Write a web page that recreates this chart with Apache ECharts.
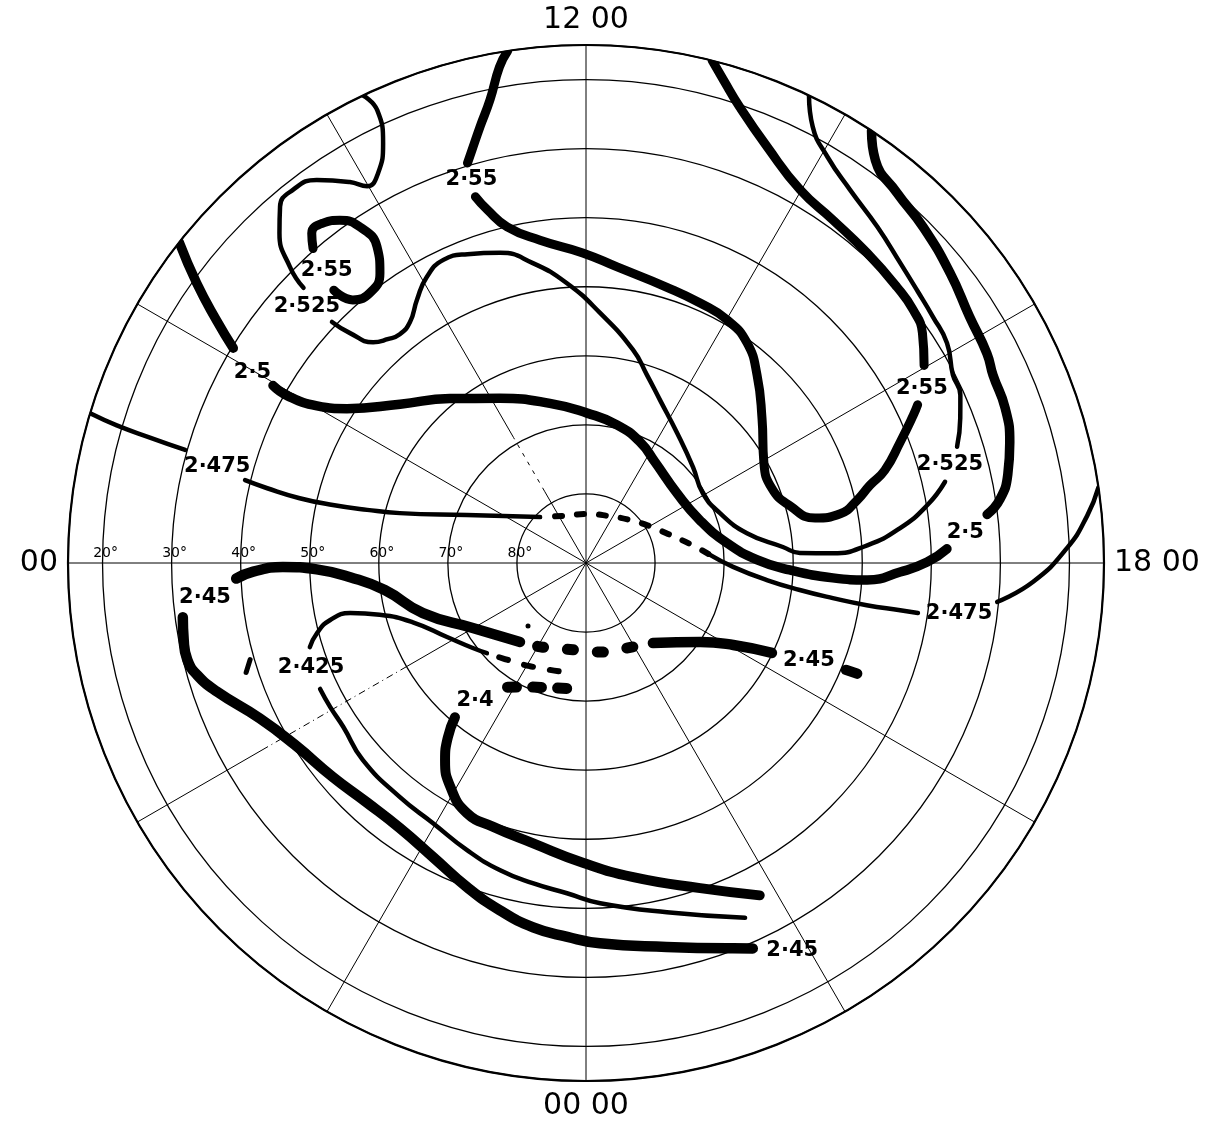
<!DOCTYPE html>
<html>
<head>
<meta charset="utf-8">
<title>Polar contour chart</title>
<script src="https://cdn.jsdelivr.net/npm/echarts@6/dist/echarts.min.js"></script>
<style>
  html, body { margin: 0; padding: 0; background: #fff; }
  #chart { width: 1207px; height: 1123px; }
</style>
</head>
<body>
<div id="chart"></div>
<script>
// Local-time labels round the rim (hour -> text)
const hourTicks = [0, 6, 12, 18];
const hourTickLabels = ['00 00', '00', '12 00', '18 00'];

// Latitude rings and their labels along the 06 h radius
const latitudeRings = [20, 30, 40, 50, 60, 70, 80];

// Radial hour lines
const spokeHours = [0, 2, 4, 6, 8, 10, 12, 14, 16, 18, 20, 22];

// Contour segments, each point = [latitude (deg), local time (h)]
// 2.55
const c255a = [[15, 11.42], [17.1, 11.34], [21.5, 11.22], [25.0, 11.09], [28.0, 10.97], [29.6, 10.90]];
const c255b = [[34.6, 10.88], [36.9, 10.96], [40.0, 11.12], [42.8, 11.46], [45.1, 11.96], [46.9, 12.40],
  [48.4, 13.09], [48.9, 13.58], [49.3, 14.01], [50.5, 14.41], [53.2, 14.82], [57.0, 15.37], [60.4, 16.03],
  [61.0, 16.54], [59.3, 16.96], [56.2, 17.26], [52.5, 17.27], [49.7, 17.13], [47.4, 16.98], [44.7, 16.85],
  [41.3, 16.60], [38.0, 16.38], [36.8, 16.30]];
const c255c = [[33.3, 15.98], [31.0, 15.71], [30.1, 15.48], [29.8, 15.23], [29.4, 14.81], [28.8, 14.38],
  [27.7, 13.99], [24.3, 13.57], [20.3, 13.24], [17.3, 13.06], [15, 12.94]];
const c255loop = [[29.7, 9.27], [27.9, 9.35], [27.8, 9.49], [28.9, 9.62], [31.4, 9.74], [35.1, 9.77],
  [38.5, 9.64], [39.9, 9.44], [39.1, 9.23], [36.2, 9.15]];
// 2.525
const c2525a = [[15, 13.70], [18.8, 13.83], [21.6, 14.05], [23.8, 14.35], [25.6, 14.73], [27.1, 15.09],
  [27.9, 15.37], [28.4, 15.64], [28.8, 15.91], [30.3, 16.19], [30.6, 16.39], [31.9, 16.59], [33.7, 16.84]];
const c2525b = [[36.7, 17.15], [39.9, 17.36], [44.3, 17.58], [49.2, 17.76], [54.2, 17.85], [59.0, 17.82],
  [61.4, 17.69], [66.3, 17.30], [69.3, 16.64], [70.3, 15.94], [69.2, 15.21], [67.0, 14.33], [64.1, 13.63],
  [61.4, 13.20], [58.4, 12.83], [53.7, 12.21], [49.4, 11.74], [45.9, 11.33], [43.4, 10.97], [42.1, 10.60],
  [41.5, 10.32], [42.6, 10.06], [44.7, 9.82], [46.8, 9.59], [47.3, 9.39], [46.7, 9.23], [45.6, 9.07],
  [42.3, 8.95], [39.3, 8.90]];
const c2525c = [[32.9, 8.95], [29.4, 9.00], [24.8, 9.14], [22.0, 9.29], [21.3, 9.46], [22.2, 9.66],
  [25.1, 9.88], [26.9, 9.99], [26.0, 10.13], [22.5, 10.28], [17.8, 10.35], [15, 10.30]];
// 2.5
const c25a = [[15, 8.55], [20.6, 8.38], [26.0, 8.22], [30.2, 8.09]];
const c25b = [[37.9, 7.97], [40.4, 7.95], [44.9, 8.02], [48.8, 8.19], [54.6, 8.70], [59.1, 9.36],
  [63.1, 10.16], [66.3, 11.15], [68.3, 12.03], [69.5, 12.84], [70.8, 13.60], [72.3, 14.29], [73.4, 15.50],
  [72.4, 16.62], [69.4, 17.46], [65.2, 17.93], [60.5, 18.13], [54.2, 18.23], [49.2, 18.23], [44.5, 18.11],
  [40.6, 17.99], [37.7, 17.85]];
const c25c = [[31.5, 17.54], [29.4, 17.42], [27.6, 17.21], [26.2, 16.94], [25.3, 16.65], [25.1, 16.35],
  [24.5, 16.16], [24.0, 15.82], [22.6, 15.43], [21.1, 15.01], [20.0, 14.67], [18.2, 14.38], [15, 14.23]];
// 2.475
const c2475a = [[15, 7.12], [19.2, 7.09], [24.3, 7.07], [29.7, 7.05]];
const c2475b = [[39.2, 6.91], [42.6, 6.88], [47.5, 6.85], [52.4, 6.86], [57.4, 6.91], [62.1, 7.00],
  [71.4, 7.46], [80.6, 9.00]];
const c2475dash = [[80.6, 9.00], [82.4, 10.26], [82.9, 12.16], [82.4, 13.80], [81.1, 15.04], [79.4, 15.97],
  [77.4, 16.70], [74.7, 17.31], [72.0, 17.75]];
const c2475c = [[72.0, 17.75], [68.7, 18.10], [63.7, 18.36], [58.8, 18.48], [53.9, 18.54], [48.9, 18.57],
  [44.0, 18.57], [41.4, 18.57]];
const c2475d = [[30.2, 18.36], [25.2, 18.16], [20.3, 17.88], [17.1, 17.64], [15, 17.44]];
// 2.45
const c245a = [[49.3, 19.49], [47.6, 19.48]];
const c245b = [[60.1, 19.72], [65.6, 19.94], [69.9, 20.31], [74.9, 21.34]];
const c245dash = [[74.9, 21.34], [76.3, 22.25], [76.9, 23.32], [77.3, 0.57], [76.3, 1.81], [75.1, 2.66]];
const c245c = [[75.1, 2.66], [71.1, 4.01], [65.3, 4.86], [60.6, 5.49], [55.8, 5.77], [51.0, 5.91],
  [46.1, 5.95], [41.8, 5.90], [39.3, 5.83]];
const c245d = [[31.1, 5.49], [30.7, 5.28], [30.6, 5.09], [31.4, 4.93], [33.4, 4.72], [37.7, 4.30],
  [40.3, 3.87], [42.0, 3.32], [43.0, 2.83], [43.1, 2.34], [42.0, 1.83], [40.0, 1.34], [38.2, 0.93],
  [36.7, 0.55], [35.8, 0.19], [34.9, 23.86], [33.2, 23.21], [30.3, 22.61], [29.2, 22.44]];
// 2.425
const c2425a = [[70.6, 3.18], [69.5, 3.54], [67.2, 4.13], [63.5, 4.74], [59.2, 5.06], [55.1, 5.20],
  [52.0, 5.16], [49.8, 5.03], [48.2, 4.87]];
const c2425dash = [[70.6, 3.18], [71.8, 2.68], [73.0, 1.90], [73.9, 0.79]];
const c2425b = [[47.4, 4.31], [47.5, 4.04], [47.6, 3.73], [46.9, 3.24], [46.7, 2.57], [46.3, 2.03],
  [45.0, 1.50], [43.8, 1.04], [43.0, 0.63], [42.1, 0.22], [40.7, 23.84], [38.1, 23.13], [33.7, 22.39]];
// 2.4
const c24 = [[60.7, 2.69], [57.8, 2.56], [54.9, 2.37], [52.1, 2.08], [49.9, 1.70], [49.5, 1.29],
  [48.7, 0.71], [46.6, 0.04], [44.0, 23.43], [40.1, 22.71], [35.7, 22.16]];
const c24dash = [[68.3, 2.27], [70.1, 1.70], [71.2, 1.07], [71.7, 0.39]];

// Small pen marks
const strayStroke = [[38.3, 4.81], [39.4, 4.93]];
const strayDots = [[77.6, 2.84]];

// Contour value labels
const labelTexts = ['2·55', '2·55', '2·55', '2·525', '2·525', '2·5', '2·5', '2·475', '2·475',
  '2·45', '2·45', '2·45', '2·425', '2·4'];
const labelLat = [32.1, 35.2, 33.4, 35.1, 35.4, 34.4, 34.9, 34.8, 35.5, 34.6, 54.8, 26.5, 47.4, 64.4];
const labelHour = [10.89, 16.17, 9.23, 8.84, 16.99, 7.98, 17.69, 6.98, 18.51, 5.65, 19.57, 22.13, 4.61, 2.59];

const INK = '#000';
const toPolar = pts => pts.map(p => [90 - p[0], p[1]]);

function contour(pts, width, dash, dashOffset) {
  return {
    type: 'line', coordinateSystem: 'polar', data: toPolar(pts),
    symbol: 'none', smooth: 0.5, silent: true, clip: false, z: 5,
    lineStyle: { color: INK, width: width, cap: 'round', join: 'round',
      type: dash || 'solid', dashOffset: dashOffset || 0 }
  };
}

// Hour lines; the 04 h line is dash-dotted and the 10 h line broken over part of their length
const spokeSeries = [];
spokeHours.forEach(h => {
  let segs = [[0, 75, 'solid']];
  if (h === 4) segs = [[0, 30, 'solid'], [30, 54, [7, 4, 1, 4]], [54, 75, 'solid']];
  if (h === 10) segs = [[0, 12, 'solid'], [12, 21, [4, 6]], [21, 75, 'solid']];
  segs.forEach(s => {
    spokeSeries.push({
      type: 'line', coordinateSystem: 'polar', data: [[s[0], h], [s[1], h]],
      symbol: 'none', silent: true, z: 2,
      lineStyle: { color: INK, width: 1, type: s[2] }
    });
  });
});

const contourSeries = [
  contour(c255a, 9), contour(c255b, 9), contour(c255c, 9), contour(c255loop, 9),
  contour(c2525a, 4.5), contour(c2525b, 4.5), contour(c2525c, 4.5),
  contour(c25a, 9.5), contour(c25b, 9.5), contour(c25c, 9.5),
  contour(c2475a, 4.5), contour(c2475b, 4.5), contour(c2475dash, 6, [7, 15], 7),
  contour(c2475c, 4.5), contour(c2475d, 4.5),
  contour(c245a, 10.5), contour(c245b, 10.5), contour(c245dash, 11, [6, 24], 9.5),
  contour(c245c, 10.5), contour(c245d, 10.5),
  contour(c2425a, 4.5), contour(c2425dash, 6, [9, 17], 13), contour(c2425b, 4.5),
  contour(c24, 10), contour(c24dash, 11, [9, 16], 19.5),
  contour(strayStroke, 5)
];

const chart = echarts.init(document.getElementById('chart'), null, { renderer: 'canvas' });
chart.setOption({
  animation: false,
  backgroundColor: '#fff',
  polar: { center: [586, 563], radius: 518 },
  angleAxis: {
    type: 'value', min: 0, max: 24, interval: 2, startAngle: 270, clockwise: true,
    axisLine: { show: true, lineStyle: { color: INK, width: 2.2 } },
    axisTick: { show: false },
    splitLine: { show: false },
    axisLabel: {
      show: true, margin: 10, color: '#000', fontFamily: 'DejaVu Sans', fontSize: 30,
      formatter: v => { const i = hourTicks.indexOf(v); return i >= 0 ? hourTickLabels[i] : ''; }
    }
  },
  radiusAxis: {
    type: 'value', min: 0, max: 75, interval: 10,
    axisLine: { show: false }, axisTick: { show: false }, axisLabel: { show: false },
    splitLine: { show: true, lineStyle: { color: INK, width: 1.3 } }
  },
  series: [
    ...spokeSeries,
    ...contourSeries,
    {
      type: 'scatter', coordinateSystem: 'polar', silent: true, z: 6,
      symbolSize: 5, itemStyle: { color: INK, opacity: 1 },
      data: toPolar(strayDots)
    },
    {
      type: 'scatter', coordinateSystem: 'polar', silent: true, z: 7,
      symbolSize: 0, itemStyle: { color: '#fff', opacity: 1 },
      data: latitudeRings.map(l => ({ value: [90 - l, 6], name: l + '°' })),
      label: { show: true, position: 'inside', offset: [3, -10], formatter: '{b}',
        fontFamily: 'DejaVu Sans', fontSize: 14, color: '#000' }
    },
    {
      type: 'scatter', coordinateSystem: 'polar', silent: true, z: 8,
      symbolSize: 0, itemStyle: { color: '#fff', opacity: 1 },
      data: labelTexts.map((t, i) => ({ value: [90 - labelLat[i], labelHour[i]], name: t })),
      label: { show: true, position: 'inside', formatter: '{b}',
        fontFamily: 'DejaVu Sans', fontWeight: 'bold', fontSize: 21, color: '#000' }
    }
  ]
});
</script>
</body>
</html>
